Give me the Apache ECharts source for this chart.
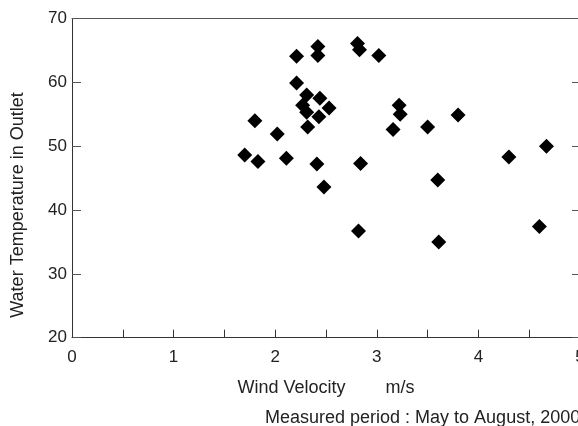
<!DOCTYPE html>
<html>
<head>
<meta charset="utf-8">
<script src="https://cdn.jsdelivr.net/npm/echarts@6/dist/echarts.min.js"></script>
<style>
  html, body { margin: 0; padding: 0; background: #fff; }
  #chart { width: 578px; height: 426px; }
</style>
</head>
<body>
<div id="chart"></div>
<script>
// Wind velocity (m/s) vs. outlet water temperature
const windVelocity = [
    1.70, 1.83, 1.80, 2.02, 2.11, 2.21, 2.21, 2.31, 2.27, 2.31,
    2.32, 2.44, 2.53, 2.43, 2.42, 2.42, 2.41, 2.48, 2.81, 2.83,
    3.02, 2.84, 2.82, 3.22, 3.23, 3.16, 3.50, 3.80, 3.60, 3.61,
    4.30, 4.67, 4.60
];
const waterTemp = [
    48.6, 47.6, 54.0, 51.9, 48.1, 64.1, 59.9, 58.0, 56.4, 55.3,
    53.0, 57.5, 56.0, 54.6, 65.6, 64.2, 47.2, 43.6, 66.1, 65.1,
    64.2, 47.3, 36.7, 56.4, 55.0, 52.6, 53.0, 54.9, 44.7, 35.0,
    48.3, 50.0, 37.4
];
const xTicks = { min: 0, max: 5, interval: 0.5 };
const yTicks = { min: 20, max: 70, interval: 10 };

const xName = 'Wind Velocity        m/s';
const yName = 'Water Temperature in Outlet';
const note = 'Measured period : May to August, 2000';

const chart = echarts.init(document.getElementById('chart'));

const font = 'Liberation Sans, Arial, sans-serif';
const lineColor = '#333';

const points = windVelocity.map((x, i) => [x, waterTemp[i]]);

chart.setOption({
    animation: false,
    grid: { left: 72, right: -2, top: 18.5, bottom: 88.3, outerBoundsMode: 'none', containLabel: false },
    xAxis: [{
        type: 'value',
        ...xTicks,
        name: xName,
        nameLocation: 'middle',
        nameGap: 41,
        nameTextStyle: { fontFamily: font, fontSize: 18, color: '#222' },
        axisLine: { lineStyle: { color: lineColor, width: 1 } },
        axisTick: { inside: true, length: 8, lineStyle: { color: lineColor } },
        axisLabel: {
            margin: 11,
            fontFamily: font,
            fontSize: 17,
            color: '#222',
            showMaxLabel: true,
            formatter: v => (Number.isInteger(v) ? String(v) : '')
        },
        splitLine: { show: false }
    }, {
        type: 'value',
        position: 'top',
        ...xTicks,
        axisLine: { onZero: false, lineStyle: { color: '#555', width: 1 } },
        axisTick: { show: false },
        axisLabel: { show: false },
        splitLine: { show: false }
    }],
    yAxis: [{
        type: 'value',
        ...yTicks,
        axisLine: { show: true, onZero: false, lineStyle: { color: lineColor, width: 1 } },
        axisTick: { show: true, inside: true, length: 9, lineStyle: { color: '#555' } },
        axisLabel: { margin: 5, fontFamily: font, fontSize: 17, color: '#222' },
        splitLine: { show: false }
    }, {
        type: 'value',
        position: 'right',
        ...yTicks,
        axisLine: { show: true, onZero: false, lineStyle: { color: lineColor, width: 1 } },
        axisTick: { show: true, inside: true, length: 8, lineStyle: { color: '#555' } },
        axisLabel: { show: false },
        splitLine: { show: false }
    }],
    graphic: [{
        type: 'text',
        x: 18.5,
        y: 205,
        rotation: Math.PI / 2,
        style: {
            text: yName,
            fontFamily: font,
            fontSize: 18,
            fill: '#222',
            align: 'center',
            verticalAlign: 'middle'
        }
    }, {
        type: 'text',
        x: 265,
        y: 418,
        style: {
            text: note,
            fontFamily: font,
            fontSize: 18,
            fill: '#222',
            align: 'left',
            verticalAlign: 'middle'
        }
    }],
    series: [{
        type: 'scatter',
        symbol: 'diamond',
        symbolSize: 15,
        itemStyle: { color: '#000', opacity: 1 },
        data: points
    }]
});

window.addEventListener('resize', () => chart.resize());
</script>
</body>
</html>
